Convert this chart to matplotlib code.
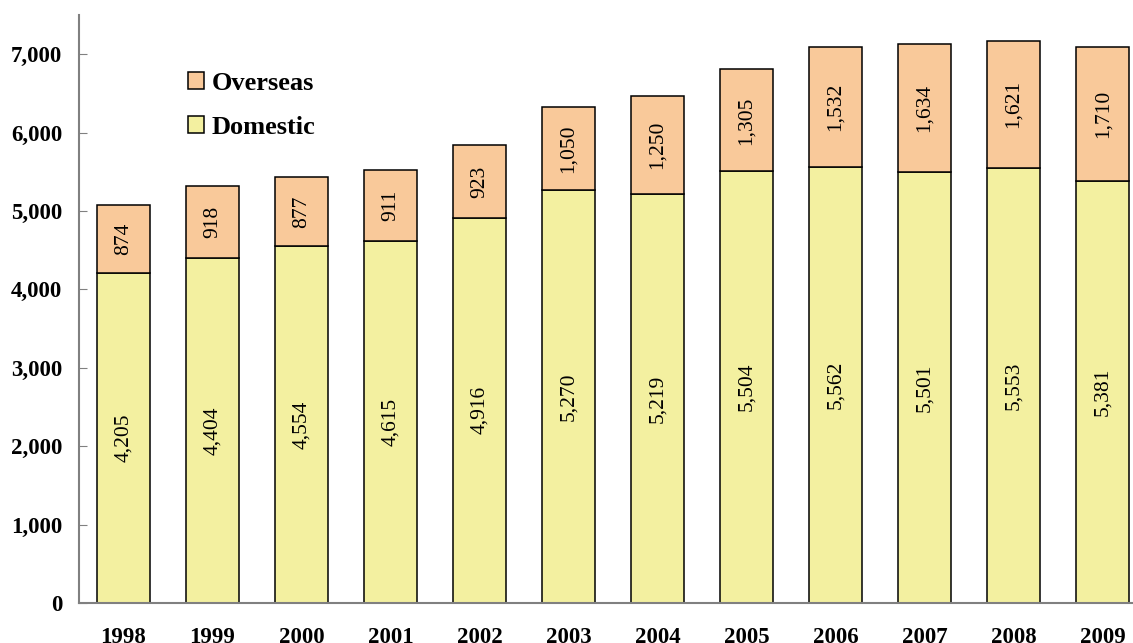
import matplotlib.pyplot as plt
import numpy as np

# data
years = ["1998", "1999", "2000", "2001", "2002", "2003",
         "2004", "2005", "2006", "2007", "2008", "2009"]
domestic = [4205, 4404, 4554, 4615, 4916, 5270, 5219, 5504, 5562, 5501, 5553, 5381]
overseas = [874, 918, 877, 911, 923, 1050, 1250, 1305, 1532, 1634, 1621, 1710]

dom_color = "#F3F0A0"
ovs_color = "#F9C99A"

plt.rcParams["font.family"] = ["Liberation Serif", "DejaVu Serif"]

fig = plt.figure(figsize=(11.33, 6.43), dpi=100)
ax = fig.add_axes([0.0697, 0.0622, 0.9303, 0.9145])

x = np.arange(len(years))
b1 = ax.bar(x, domestic, width=0.6, color=dom_color, edgecolor="black",
            linewidth=1.1, label="Domestic")
b2 = ax.bar(x, overseas, width=0.6, bottom=domestic, color=ovs_color,
            edgecolor="black", linewidth=1.1, label="Overseas")

# value labels inside the bars
ax.bar_label(b1, labels=[f"{v:,}" for v in domestic], label_type="center",
             rotation=90, fontsize=15.5)
ax.bar_label(b2, labels=[f"{v:,}" for v in overseas], label_type="center",
             rotation=90, fontsize=15.5)

ax.set_xlim(-0.5, 11.34)
ax.set_ylim(0, 7500)
ax.set_yticks(range(0, 7001, 1000))
ax.set_yticklabels([f"{v:,}" for v in range(0, 7001, 1000)],
                   fontsize=16.5, fontweight="bold")
ax.set_xticks(x)
ax.set_xticklabels(years, fontsize=16.5, fontweight="bold")

ax.tick_params(axis="y", direction="in", length=6, color="#808080", pad=12)
ax.tick_params(axis="x", length=0, pad=17)

for s in ["top", "right"]:
    ax.spines[s].set_visible(False)
for s in ["left", "bottom"]:
    ax.spines[s].set_color("#808080")
    ax.spines[s].set_linewidth(1.5)

handles = [b2, b1]
leg = ax.legend(handles, ["Overseas", "Domestic"], loc="upper left",
                bbox_to_anchor=(0.103, 0.903), frameon=False,
                prop={"size": 19, "weight": "bold"},
                handlelength=0.62, handleheight=0.6, handletextpad=0.3,
                labelspacing=0.78, borderpad=0, borderaxespad=0)

fig.savefig("out.png", dpi=100)
